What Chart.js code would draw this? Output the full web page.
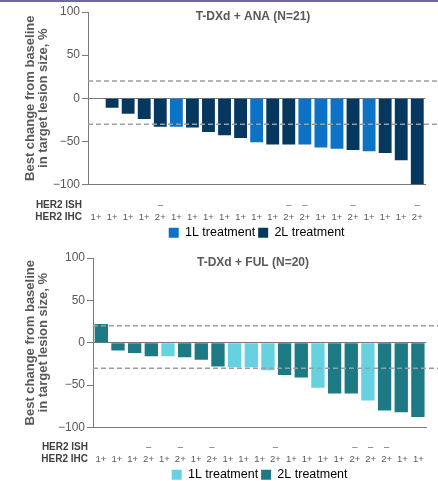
<!DOCTYPE html>
<html>
<head>
<meta charset="utf-8">
<script src="https://cdn.jsdelivr.net/npm/chart.js@4.4.0/dist/chart.umd.min.js"></script>
<style>
  html, body { margin: 0; padding: 0; background: #fff; }
  body { width: 438px; height: 481px; position: relative; overflow: hidden; }
  .topline { position: absolute; left: 0; top: 0; width: 438px; height: 2px; background: #6b68a3; z-index: 2; }
  .panel { position: absolute; left: 0; width: 438px; }
  /* panels are a bit taller than their slot: the legend keeps 10px of empty space under itself */
  #panelAna { top: 0; height: 249px; }
  #panelFul { top: 240px; height: 251px; }
</style>
</head>
<body>
<div class="topline"></div>
<div class="panel" id="panelAna"><canvas id="chartAna"></canvas></div>
<div class="panel" id="panelFul"><canvas id="chartFul"></canvas></div>
<script>
// T-DXd + ANA, best % change per patient (sorted)
const anaValues = [0, -11, -18, -24, -33, -33, -34, -39, -43, -46, -51, -53.5, -53.5, -53.5, -57, -58.5, -60, -61.5, -63.5, -72, -100]
const anaLine = ['2L', '2L', '2L', '2L', '2L', '1L', '2L', '2L', '2L', '2L', '1L', '2L', '2L', '1L', '1L', '1L', '2L', '1L', '2L', '2L', '2L']
const anaIsh = ['', '', '', '', '–', '', '', '', '', '', '', '', '–', '–', '', '', '–', '', '', '', '–']
const anaIhc = ['1+', '1+', '1+', '1+', '2+', '1+', '1+', '1+', '1+', '1+', '1+', '1+', '2+', '2+', '1+', '1+', '2+', '1+', '1+', '1+', '2+']

// T-DXd + FUL
const fulValues = [22, -9, -12, -16, -16, -17, -20, -28, -29, -29, -32.5, -38, -41, -53, -60, -60, -68, -80, -82, -87.5]
const fulLine = ['2L', '2L', '2L', '2L', '1L', '2L', '2L', '2L', '1L', '1L', '1L', '2L', '2L', '1L', '2L', '2L', '1L', '2L', '2L', '2L']
const fulIsh = ['', '', '', '–', '', '–', '', '–', '', '', '', '–', '', '', '', '', '–', '–', '–', '', '']
const fulIhc = ['1+', '1+', '1+', '2+', '1+', '2+', '1+', '2+', '1+', '1+', '1+', '2+', '1+', '1+', '1+', '1+', '2+', '2+', '2+', '1+', '1+']

const refLines = [20, -30]
const yTicks = [-100, -50, 0, 50, 100]
const yTitle = ['Best change from baseline', 'in target lesion size, %']

Chart.defaults.font.family = '"Liberation Sans", Arial, sans-serif'
Chart.defaults.color = '#595959'

const refLinePlugin = {
    id: 'refLines',
    afterDatasetsDraw(chart, args, opts) {
        const y = chart.scales.y
        const ctx = chart.ctx
        ctx.save()
        ctx.strokeStyle = '#9d9d9d'
        ctx.lineWidth = 1.5
        ctx.setLineDash([5, 3])
        opts.values.forEach(v => {
            const py = y.getPixelForValue(v)
            ctx.beginPath()
            ctx.moveTo(chart.chartArea.left, py)
            ctx.lineTo(chart.width, py)
            ctx.stroke()
        })
        ctx.restore()
    }
}

const panelTextPlugin = {
    id: 'panelText',
    afterDraw(chart, args, opts) {
        const ctx = chart.ctx
        const her2 = chart.scales.her2
        ctx.save()
        ctx.fillStyle = '#595959'
        ctx.font = 'bold 12px "Liberation Sans", Arial, sans-serif'
        ctx.textAlign = 'center'
        ctx.textBaseline = 'middle'
        ctx.fillText(opts.title, opts.titleX, opts.titleY)

        ctx.fillStyle = '#404040'
        ctx.font = 'bold 10px "Liberation Sans", Arial, sans-serif'
        ctx.textAlign = 'right'
        const row1 = her2.top + opts.labelPad + opts.lineH / 2
        ctx.fillText('HER2 ISH', opts.rowX, row1)
        ctx.fillText('HER2 IHC', opts.rowX, row1 + opts.lineH)
        ctx.restore()
    }
}

function makeChart(canvasId, p) {
    const ctx = document.getElementById(canvasId).getContext('2d')
    const lineH = 12

    return new Chart(ctx, {
        type: 'bar',
        data: {
            labels: p.values.map((v, i) => i + 1),
            datasets: [{
                data: p.values,
                backgroundColor: p.line.map(l => p.colors[l]),
                barPercentage: 0.8,
                categoryPercentage: 1
            }]
        },
        options: {
            responsive: true,
            maintainAspectRatio: false,
            animation: false,
            layout: { padding: { top: p.padTop, right: p.padRight, left: 0, bottom: 0 } },
            scales: {
                x: {
                    position: 'bottom',
                    ticks: { display: false },
                    grid: { display: false, drawTicks: false },
                    border: { color: '#7a7a7a', width: 1 },
                    afterFit: s => { s.height = 0 }
                },
                her2: {
                    type: 'category',
                    position: 'bottom',
                    weight: 1,
                    offset: true,
                    labels: p.ihc.map((t, i) => [p.ish[i], t]),
                    grid: { display: false, drawTicks: false },
                    border: { display: false },
                    ticks: {
                        autoSkip: false,
                        maxRotation: 0,
                        padding: p.labelPad,
                        color: '#595959',
                        font: { size: 9.5, lineHeight: lineH / 9.5 }
                    },
                    afterFit: s => { s.height = p.labelPad + 2 * lineH }
                },
                y: {
                    min: -100,
                    max: 100,
                    afterBuildTicks: s => { s.ticks = yTicks.map(v => ({ value: v })) },
                    ticks: {
                        color: '#595959',
                        font: { size: 12 },
                        padding: 2,
                        callback: v => v < 0 ? '\u2212' + Math.abs(v) : String(v)
                    },
                    grid: {
                        color: c => (c.tick && c.tick.value === 0) ? '#7a7a7a' : 'transparent',
                        tickColor: '#7a7a7a',
                        tickLength: 6
                    },
                    border: { color: '#7a7a7a' },
                    title: {
                        display: true,
                        text: yTitle,
                        color: '#595959',
                        font: { size: 13, weight: 'bold', lineHeight: 1 },
                        padding: { top: 24, bottom: 0 }
                    },
                    afterFit: s => { s.width = p.axisX }
                }
            },
            plugins: {
                legend: {
                    position: 'bottom',
                    fullSize: false,
                    onClick: null,
                    labels: {
                        boxWidth: 10,
                        boxHeight: 10,
                        padding: p.legendPad,
                        color: '#595959',
                        font: { size: 12.5 },
                        generateLabels: () => ['1L', '2L'].map(k => ({
                            text: k + ' treatment',
                            fillStyle: p.colors[k],
                            strokeStyle: p.colors[k],
                            lineWidth: 0,
                            hidden: false
                        }))
                    }
                },
                tooltip: { enabled: false },
                refLines: { values: refLines },
                panelText: { title: p.title, titleX: 253, titleY: p.titleY, rowX: p.rowX, labelPad: p.labelPad, lineH: lineH }
            }
        },
        plugins: [refLinePlugin, panelTextPlugin]
    })
}

makeChart('chartAna', {
    title: 'T-DXd + ANA (N=21)',
    values: anaValues, line: anaLine, ish: anaIsh, ihc: anaIhc,
    colors: { '1L': '#0b72c6', '2L': '#05375f' },
    axisX: 88, padTop: 12, padRight: 5, titleY: 17, rowX: 82,
    labelPad: 15, legendPad: 3
})

makeChart('chartFul', {
    title: 'T-DXd + FUL (N=20)',
    values: fulValues, line: fulLine, ish: fulIsh, ihc: fulIhc,
    colors: { '1L': '#66d2df', '2L': '#1d7a84' },
    axisX: 93, padTop: 18, padRight: 4, titleY: 23, rowX: 88,
    labelPad: 14, legendPad: 3
})
</script>
</body>
</html>
